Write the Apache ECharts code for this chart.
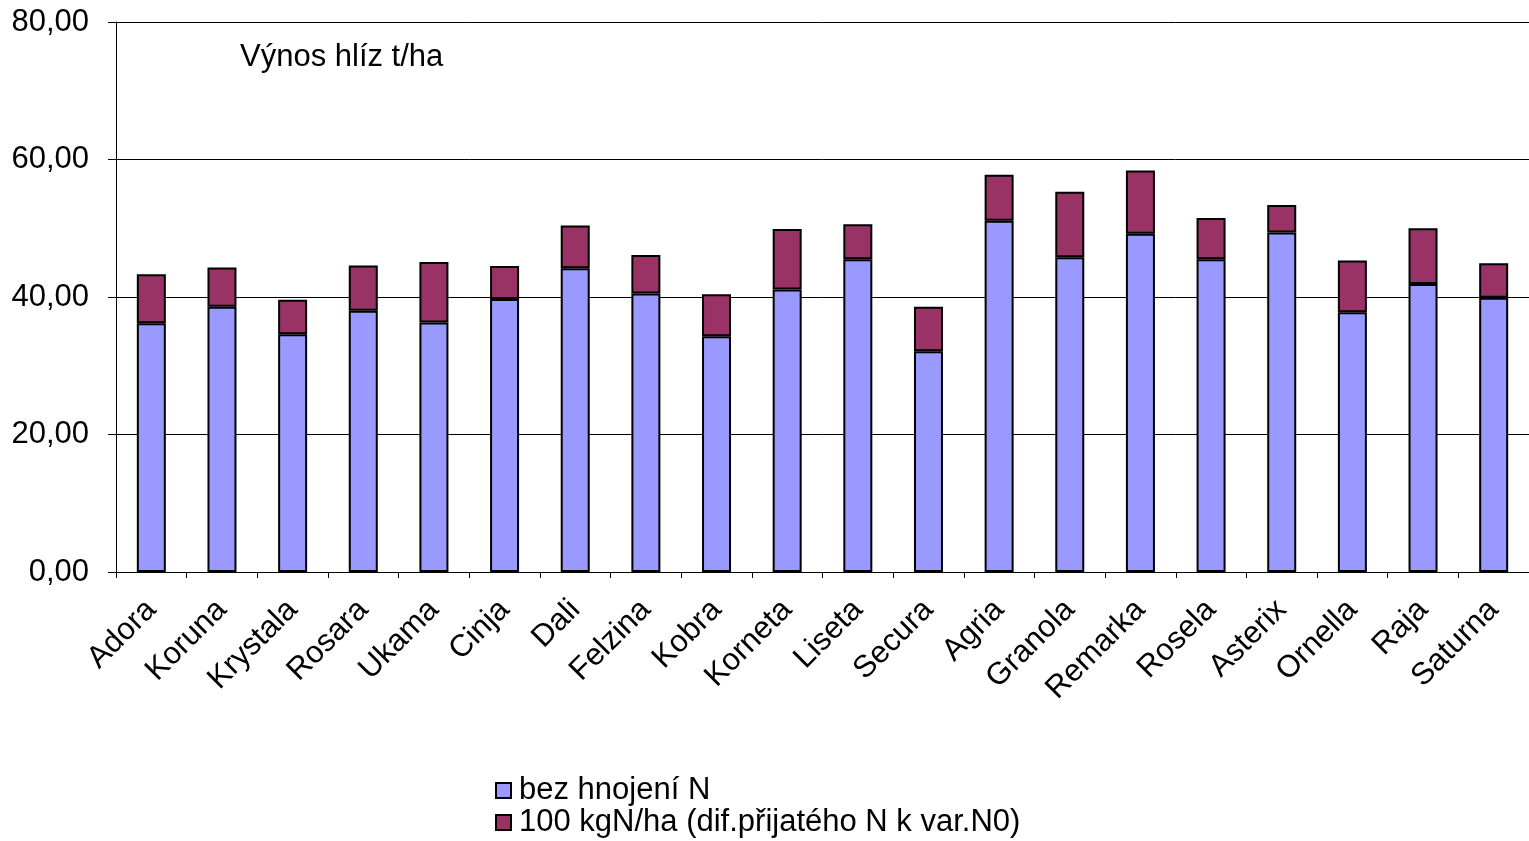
<!DOCTYPE html>
<html><head><meta charset="utf-8">
<script src="https://cdn.jsdelivr.net/npm/echarts@6/dist/echarts.min.js"></script>
<style>html,body{margin:0;padding:0;background:#fff}#c{width:1529px;height:841px}</style>
</head><body><div id="c"></div>
<script>
const categories = ['Adora','Koruna','Krystala','Rosara','Ukama','Cinja','Dali','Felzina','Kobra','Korneta','Liseta','Secura','Agria','Granola','Remarka','Rosela','Asterix','Ornella','Raja','Saturna'];
const bezHnojeni = [36.2,38.6,34.6,38.0,36.3,39.7,44.2,40.5,34.3,41.1,45.5,32.1,51.1,45.8,49.2,45.5,49.4,37.8,41.9,39.9];
const dif100 = [7.1,5.7,5.0,6.6,8.8,4.8,6.2,5.6,6.1,8.8,5.1,6.5,6.7,9.5,9.2,6.0,4.0,7.5,8.1,5.0];
const yTicks = {min:0, max:80, interval:20};
const seriesNames = ['bez hnojení N','100 kgN/ha (dif.přijatého N k var.N0)'];
const titleText = 'Výnos hlíz t/ha';

const font = 'Liberation Sans, Arial, sans-serif';
const fs = 31;
const chart = echarts.init(document.getElementById('c'), null, {renderer:'canvas'});
chart.setOption({
  animation:false,
  backgroundColor:'#fff',
  title:{text:titleText, left:240, top:42, padding:0, textStyle:{fontFamily:font, fontSize:fs, fontWeight:'normal', color:'#000'}},
  grid:{left:116, right:0, top:22, bottom:269, containLabel:false},
  legend:{orient:'vertical', left:495, top:775, padding:0, itemWidth:15, itemHeight:15, itemGap:1, icon:'rect',
    textStyle:{fontFamily:font, fontSize:fs, color:'#000', padding:[0,0,0,3]},
    data:seriesNames},
  xAxis:{type:'category', data:categories,
    axisLine:{lineStyle:{color:'#000', width:1}},
    axisTick:{show:true, alignWithLabel:false, length:6, lineStyle:{color:'#000'}},
    axisLabel:{rotate:45, margin:33, fontFamily:font, fontSize:fs, color:'#000', interval:0}},
  yAxis:{type:'value', min:yTicks.min, max:yTicks.max, interval:yTicks.interval,
    axisLine:{show:true, lineStyle:{color:'#000', width:1}},
    axisTick:{show:true, length:8, lineStyle:{color:'#000'}},
    axisLabel:{margin:27, fontFamily:font, fontSize:fs, color:'#000', formatter:v=>v.toFixed(2).replace('.',',')},
    splitLine:{show:true, lineStyle:{color:'#000', width:1}}},
  series:[
    {name:seriesNames[0], type:'bar', stack:'t', data:bezHnojeni, barWidth:29,
     itemStyle:{color:'#9999FF', borderColor:'#000', borderWidth:2}},
    {name:seriesNames[1], type:'bar', stack:'t', data:dif100, barWidth:29,
     itemStyle:{color:'#993366', borderColor:'#000', borderWidth:2}}
  ]
});
</script></body></html>
